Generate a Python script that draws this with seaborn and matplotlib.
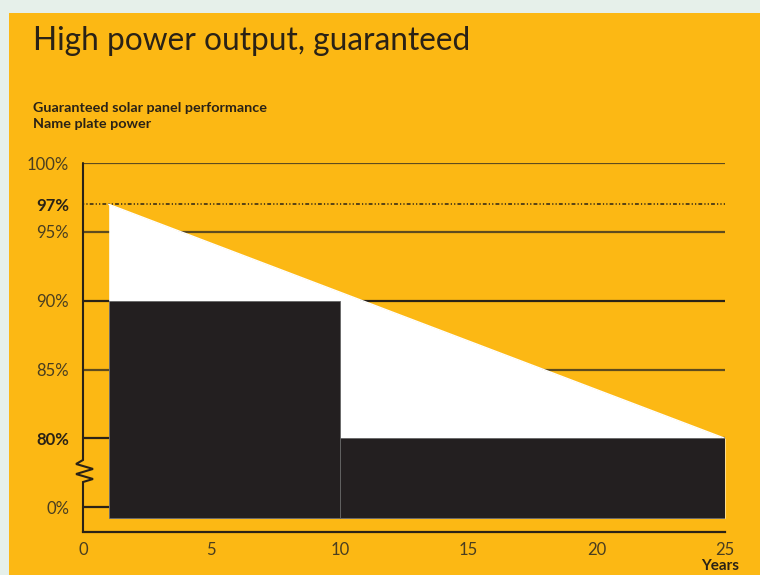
import matplotlib
matplotlib.use("Agg")
import matplotlib.pyplot as plt
from matplotlib.patches import Rectangle
import seaborn as sns
import pandas as pd

# Guaranteed performance: linear decline from year 1 to year 25
line_years = [1, 25]
line_pct = [97, 80]

# Step guarantee: 90% for years 1-10, 80% for years 10-25
step_start = [1, 10]
step_end = [10, 25]
step_pct = [90, 80]

# Axis ticks (0% sits below a broken axis)
x_ticks = [0, 5, 10, 15, 20, 25]
y_tick_pos = [75, 80, 85, 90, 95, 97, 100]
y_tick_labels = ["0%", "80%", "85%", "90%", "95%", "97%", "100%"]
bold_labels = ["97%", "80%"]

ORANGE = "#FCB814"
INK = "#231F20"
GRID = "#5E4B1E"
DARK = "#2A2216"
TEXT = "#4A3E20"

sns.set_style("white")
plt.rcParams["font.family"] = ["Lato", "DejaVu Sans"]

fig = plt.figure(figsize=(7.6, 5.75), dpi=100)
fig.patch.set_facecolor("#E6F0EA")
panel = Rectangle((9 / 760, 0), 1 - 9 / 760, 1 - 13 / 575,
                  transform=fig.transFigure, facecolor=ORANGE,
                  edgecolor="none", zorder=-10)
fig.add_artist(panel)

ax = fig.add_axes([83 / 760, 43 / 575, 642 / 760, 369 / 575])
ax.set_zorder(1)
ax.set_facecolor("none")
ax.set_xlim(0, 25)
ax.set_ylim(73.2, 100)

# horizontal reference lines
for pos in [100, 95, 85]:
    ax.plot([0, 25], [pos, pos], color=GRID, lw=1.6, zorder=1)
for pos in [90, 80, 75]:
    ax.plot([0, 25], [pos, pos], color=DARK, lw=1.6, zorder=1)
ax.plot([0, 25], [97, 97], color=DARK, lw=1.1, ls=(0, (0.8, 1.4, 0.8, 1.4, 2.5, 1.4)), zorder=1)

# white area under the guaranteed decline
base = 74.2
ax.fill_between(line_years, line_pct, base, color="white", lw=0, zorder=2)
df = pd.DataFrame({"year": line_years, "pct": line_pct})
sns.lineplot(data=df, x="year", y="pct", color="white", lw=1, ax=ax, zorder=2)

# black step guarantee
widths = [e - s for s, e in zip(step_start, step_end)]
heights = [p - base for p in step_pct]
ax.bar(step_start, heights, width=widths, bottom=base, align="edge",
       color=INK, edgecolor="#666666", linewidth=0.6, zorder=3)

# spines and axis break
for side in ["top", "right", "left"]:
    ax.spines[side].set_visible(False)
ax.spines["bottom"].set_color(DARK)
ax.spines["bottom"].set_linewidth(1.6)
ax.spines["bottom"].set_zorder(4)
brk_x = [0, 0, -0.27, 0.39, -0.27, 0.39, 0, 0]
brk_y = [100, 78.43, 78.14, 77.78, 77.41, 77.05, 76.83, 73.2]
ax.plot(brk_x, brk_y, color=DARK, lw=1.5, zorder=4, clip_on=False,
        solid_joinstyle="miter")

ax.set_xticks(x_ticks)
ax.set_xticklabels([str(t) for t in x_ticks])
ax.tick_params(axis="x", direction="in", length=8, width=1.4, color=DARK,
               pad=7, labelsize=12, labelcolor=TEXT)
ax.set_yticks(y_tick_pos)
ax.set_yticklabels(y_tick_labels)
ax.tick_params(axis="y", length=0, pad=10, labelsize=12, labelcolor=TEXT)
for lab in ax.get_yticklabels():
    if lab.get_text() in bold_labels:
        lab.set_fontweight("bold")
        lab.set_color(DARK)
ax.set_xlabel("")
ax.set_ylabel("")
ax.grid(False)

fig.text(720 / 760, 1 - 566 / 575, "Years", ha="center", va="center",
         fontsize=11, fontweight="bold", color=DARK)
fig.text(33 / 760, 1 - 50 / 575, "High power output, guaranteed",
         ha="left", va="baseline", fontsize=22.8, color=DARK)
fig.text(33 / 760, 1 - 112 / 575, "Guaranteed solar panel performance",
         ha="left", va="baseline", fontsize=10.4, fontweight="bold", color=DARK)
fig.text(33 / 760, 1 - 128 / 575, "Name plate power",
         ha="left", va="baseline", fontsize=10.4, fontweight="bold", color=DARK)

fig.savefig("out.png", dpi=100, facecolor=fig.get_facecolor())
